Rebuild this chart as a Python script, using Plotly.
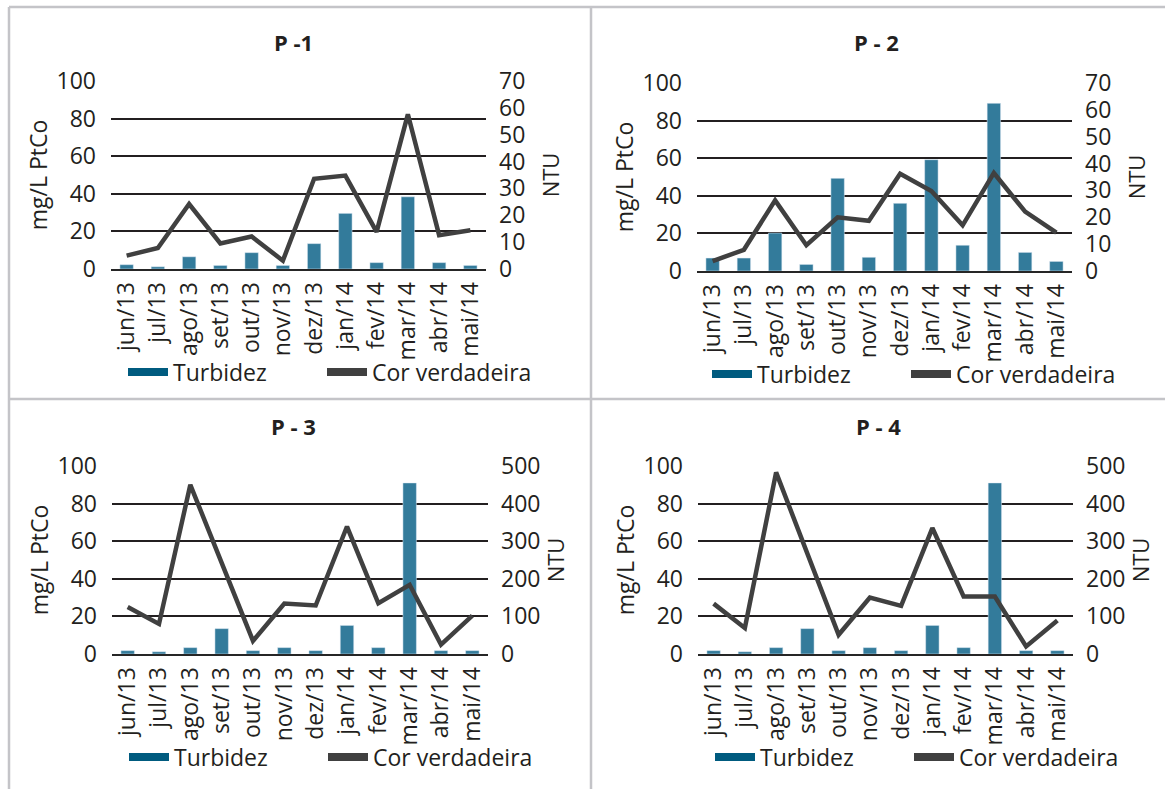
import plotly.graph_objects as go

months = ["jun/13", "jul/13", "ago/13", "set/13", "out/13", "nov/13",
          "dez/13", "jan/14", "fev/14", "mar/14", "abr/14", "mai/14"]

titles = ["P -1", "P - 2", "P - 3", "P - 4"]

turb_p1 = [2.3, 1.2, 6.5, 1.9, 8.7, 1.9, 13.5, 29.6, 3.4, 38.4, 3.4, 1.9]
turb_p2 = [6.9, 6.9, 20.2, 3.5, 49.3, 7.3, 36.0, 59.2, 13.7, 89.2, 9.9, 5.1]
turb_p3 = [1.8, 1.2, 3.4, 13.5, 1.8, 3.4, 1.8, 15.2, 3.4, 91.0, 1.8, 1.8]
turb_p4 = [1.8, 1.2, 3.4, 13.5, 1.8, 3.4, 1.8, 15.2, 3.4, 91.0, 1.8, 1.8]

cor_p1 = [5.0, 7.8, 24.2, 9.5, 12.1, 3.1, 33.6, 34.8, 13.8, 57.6, 12.6, 14.4]
cor_p2 = [3.7, 7.9, 26.3, 9.6, 20.0, 18.7, 36.2, 29.8, 17.0, 36.5, 22.1, 14.3]
cor_p3 = [125, 80, 450, 243, 35, 134, 129, 339, 135, 184, 25, 102]
cor_p4 = [134, 69, 483, 267, 51, 150, 128, 335, 153, 153, 20, 89]

ntu_max = [70, 70, 500, 500]
ntu_dtick = [10, 10, 100, 100]

turb = [turb_p1, turb_p2, turb_p3, turb_p4]
cor = [cor_p1, cor_p2, cor_p3, cor_p4]

W, H = 1165, 789
FONT = "Open Sans"
TXT = "#231f20"
BAR = "#337b9b"
SWATCH = "#005b7f"
LINE = "#404040"

# panel plot areas in pixels: (left, right, top, bottom)
areas = [(111, 486, 81, 269), (697, 1072, 83, 271),
         (112, 488, 466, 654), (698, 1073, 466, 654)]
title_pos = [(293, 42), (876, 42), (293, 426), (878, 426)]
legend_pos = [(123, 372), (707, 374), (124, 757), (710, 757)]
ntu_standoff = [19, 19, 1, 1]

fig = go.Figure()
layout = dict(
    width=W, height=H, margin=dict(l=0, r=0, t=0, b=0, autoexpand=False),
    paper_bgcolor="white", plot_bgcolor="white",
    font=dict(family=FONT, size=22, color=TXT),
    bargap=0.57, showlegend=True,
)
annotations = []
shapes = []

for i in range(4):
    n = i + 1
    xa = "x" if n == 1 else f"x{n}"
    ya = f"y{2*n-1}" if n > 1 else "y"
    yb = f"y{2*n}"
    lg = "legend" if n == 1 else f"legend{n}"
    l, r, t, b = areas[i]
    xdom = [l / W, r / W]
    ydom = [1 - b / H, 1 - t / H]

    fig.add_trace(go.Bar(x=months, y=turb[i], name="Turbidez", marker_color=BAR,
                         xaxis=xa, yaxis=ya, showlegend=False))
    fig.add_trace(go.Scatter(x=months, y=cor[i], name="Cor verdadeira", mode="lines",
                             line=dict(color=LINE, width=4.5), xaxis=xa, yaxis=yb,
                             showlegend=False))
    # legend entries
    fig.add_trace(go.Scatter(x=[None], y=[None], name="Turbidez", mode="lines",
                             line=dict(color=SWATCH, width=8), xaxis=xa, yaxis=ya,
                             legend=lg, legendwidth=144))
    fig.add_trace(go.Scatter(x=[None], y=[None], name="Cor verdadeira", mode="lines",
                             line=dict(color=LINE, width=8), xaxis=xa, yaxis=yb,
                             legend=lg, legendwidth=180))

    xkey = "xaxis" if n == 1 else f"xaxis{n}"
    ykey = "yaxis" if n == 1 else f"yaxis{2*n-1}"
    y2key = f"yaxis{2*n}"
    layout[xkey] = dict(domain=xdom, anchor=ya, type="category",
                        categoryorder="array", categoryarray=months,
                        tickangle=-90, showline=True, linecolor="#262626", linewidth=2,
                        showgrid=False, ticks="", ticklabelstandoff=2, automargin=False,
                        tickfont=dict(size=23, color=TXT), fixedrange=True)
    layout[ykey] = dict(domain=ydom, anchor=xa, range=[0, 100], dtick=20,
                        showgrid=True, gridcolor="#231f20", gridwidth=2,
                        zeroline=False, showline=False, ticks="", automargin=True,
                        ticklabelstandoff=14,
                        title=dict(text="mg/L PtCo", font=dict(size=23, color=TXT), standoff=2),
                        tickfont=dict(size=23, color=TXT), fixedrange=True)
    layout[y2key] = dict(domain=ydom, anchor=xa, overlaying=ya, side="right",
                         range=[0, ntu_max[i]], dtick=ntu_dtick[i], showgrid=False,
                         zeroline=False, showline=False, ticks="", ticklabelstandoff=12,
                         automargin=True,
                         title=dict(text="NTU", font=dict(size=22, color=TXT),
                                    standoff=ntu_standoff[i]),
                         tickfont=dict(size=23, color=TXT), fixedrange=True)
    lx, ly = legend_pos[i]
    layout[lg] = dict(orientation="h", x=lx / W, y=1 - ly / H, xanchor="left",
                      yanchor="middle", entrywidthmode="pixels",
                      itemwidth=40, font=dict(size=23, color=TXT),
                      bgcolor="rgba(0,0,0,0)", tracegroupgap=0)
    tx, ty = title_pos[i]
    annotations.append(dict(text="<b>" + titles[i] + "</b>", x=tx / W, y=1 - ty / H,
                            xref="paper", yref="paper", showarrow=False,
                            xanchor="center", yanchor="middle",
                            font=dict(size=22, color=TXT)))

# panel frame lines
frame = "#c4c4c8"
shapes += [
    dict(type="line", xref="paper", yref="paper", x0=9 / W, x1=1, y0=1 - 7 / H, y1=1 - 7 / H,
         line=dict(color=frame, width=2.5)),
    dict(type="line", xref="paper", yref="paper", x0=9 / W, x1=9 / W, y0=0, y1=1 - 7 / H,
         line=dict(color=frame, width=2.5)),
    dict(type="line", xref="paper", yref="paper", x0=591 / W, x1=591 / W, y0=0, y1=1 - 7 / H,
         line=dict(color=frame, width=2.5)),
    dict(type="line", xref="paper", yref="paper", x0=9 / W, x1=1, y0=1 - 399 / H, y1=1 - 399 / H,
         line=dict(color=frame, width=2.5)),
]

layout["annotations"] = annotations
layout["shapes"] = shapes
fig.update_layout(**layout)
fig.write_html("out.html", config={"displayModeBar": False},
               post_script="document.body.style.margin='0px';")
